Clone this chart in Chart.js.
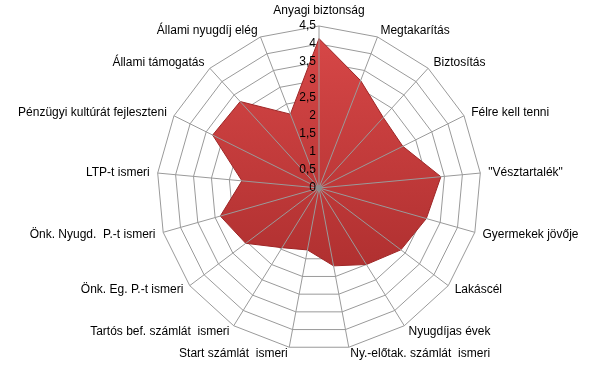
<!DOCTYPE html>
<html>
<head>
<meta charset="utf-8">
<script src="https://cdn.jsdelivr.net/npm/chart.js@4"></script>
<style>
  html, body { margin: 0; padding: 0; background: #fff; }
  #wrap { width: 598px; height: 373px; }
</style>
</head>
<body>
<div id="wrap"><canvas id="radar"></canvas></div>
<script>
// ---------- adatok ----------
const categories = [
  'Anyagi biztonság', 'Megtakarítás', 'Biztosítás', 'Félre kell tenni', '"Vésztartalék"',
  'Gyermekek jövője', 'Lakáscél', 'Nyugdíjas évek', 'Ny.-előtak. számlát  ismeri',
  'Start számlát  ismeri', 'Tartós bef. számlát  ismeri', 'Önk. Eg. P.-t ismeri',
  'Önk. Nyugd.  P.-t ismeri', 'LTP-t ismeri', 'Pénzügyi kultúrát fejleszteni',
  'Állami támogatás', 'Állami nyugdíj elég'
];
const values = [4.15, 3.2, 2.65, 2.6, 3.4, 3.1, 2.85, 2.5, 2.2, 1.75, 1.95, 2.55, 2.85, 2.15, 3.3, 3.25, 2.2];
const tickLabels = ['0', '0,5', '1', '1,5', '2', '2,5', '3', '3,5', '4', '4,5'];

const fontFamily = "'Liberation Sans', Arial, sans-serif";
const labelSize = 12;
const gridColor = '#9a9a9a';

// a diagram helye és mérete, mint az eredetin
function placeScale(scale) {
  scale.xCenter = 319;
  scale.yCenter = 188;
  scale.drawingArea = 162;
  // feliratok újraszámolása a rögzített középponttal
  const keep = scale.setCenterPoint;
  scale.setCenterPoint = () => {};
  scale.fit();
  scale.setCenterPoint = keep;

  // Excel-szerű függőleges igazítás: a felirat közepe a csúcs magasságában
  const lh = labelSize * 1.2;
  (scale._pointLabelItems || []).forEach((item, i) => {
    if (i === 0) return;
    const ang = scale.getIndexAngle(i);
    const v = scale.getPointPosition(i, scale.drawingArea);
    const cy = v.y - Math.cos(ang) * 7;
    item.y = cy - lh / 2;
    item.top = item.y;
    item.bottom = item.y + lh;
  });
}

// küllők a kitöltés fölött + tengelyfeliratok (a 0-t is)
const overlayPlugin = {
  id: 'overlay',
  afterDatasetsDraw(chart) {
    const r = chart.scales.r;
    const ctx = chart.ctx;
    ctx.save();
    ctx.strokeStyle = gridColor;
    ctx.lineWidth = 1;
    categories.forEach((c, i) => {
      const p = r.getPointPositionForValue(i, r.max);
      ctx.beginPath();
      ctx.moveTo(r.xCenter, r.yCenter);
      ctx.lineTo(p.x, p.y);
      ctx.stroke();
    });
    ctx.fillStyle = '#8c8c8c';
    ctx.beginPath();
    ctx.arc(r.xCenter, r.yCenter, 3, 0, Math.PI * 2);
    ctx.fill();

    ctx.font = '12px ' + fontFamily;
    ctx.fillStyle = '#000';
    ctx.textAlign = 'right';
    ctx.textBaseline = 'middle';
    tickLabels.forEach((lbl, i) => {
      const d = r.getDistanceFromCenterForValue(i * 0.5);
      ctx.fillText(lbl, r.xCenter - 3, r.yCenter - d);
    });
    ctx.restore();
  }
};

function redFill(context) {
  const chart = context.chart;
  const r = chart.scales.r;
  if (!r || !r.drawingArea) return 'rgb(195,58,58)';
  const g = chart.ctx.createLinearGradient(0, r.yCenter - r.drawingArea, 0, r.yCenter + r.drawingArea * 0.5);
  g.addColorStop(0, 'rgb(216,72,72)');
  g.addColorStop(1, 'rgb(176,48,48)');
  return g;
}

new Chart(document.getElementById('radar'), {
  type: 'radar',
  data: {
    labels: categories,
    datasets: [{
      data: values,
      backgroundColor: redFill,
      borderColor: 'rgb(158,38,38)',
      borderWidth: 1,
      pointRadius: 0,
      fill: true
    }]
  },
  options: {
    responsive: true,
    maintainAspectRatio: false,
    animation: false,
    plugins: { legend: { display: false }, tooltip: { enabled: false } },
    scales: {
      r: {
        min: 0,
        max: 4.5,
        afterFit: placeScale,
        ticks: { display: false, stepSize: 0.5 },
        grid: { color: gridColor, lineWidth: 1 },
        angleLines: { display: false },
        pointLabels: {
          color: '#000',
          padding: 8,
          font: { family: fontFamily, size: labelSize }
        }
      }
    }
  },
  plugins: [overlayPlugin]
});
</script>
</body>
</html>
